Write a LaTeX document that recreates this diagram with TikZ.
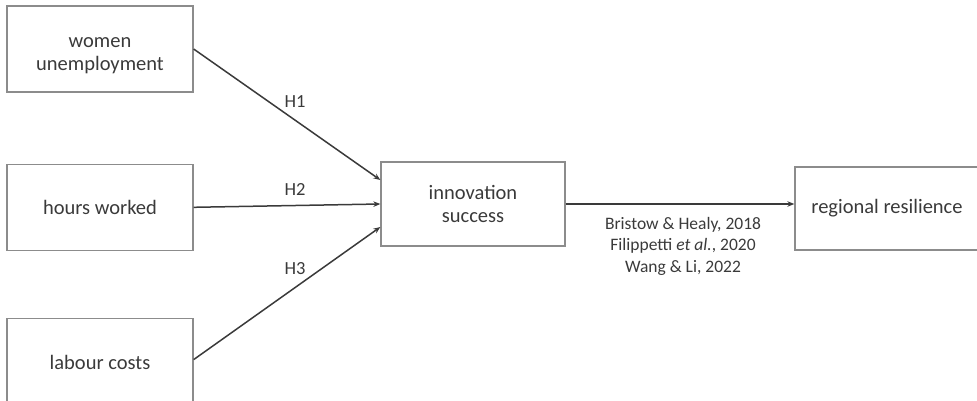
\documentclass[tikz,border=0pt]{standalone}
\usepackage{fontspec}
\setmainfont{Carlito}
\usetikzlibrary{arrows.meta,positioning}
\definecolor{boxgray}{RGB}{140,140,140}
\definecolor{inkgray}{RGB}{58,58,58}

\begin{document}
\begin{tikzpicture}[x=1pt, y=-1pt,
	boxtext/.style={align=center, text=inkgray, font=\fontsize{20.5}{23}\selectfont},
	box/.style={boxtext, draw=boxgray, line width=1.3pt, minimum width=186pt, minimum height=86pt, inner sep=0pt},
	link/.style={draw=inkgray, line width=1.5pt, -{Stealth[length=7pt,width=5.5pt]}},
	hyp/.style={text=inkgray, inner sep=0pt, font=\fontsize{18.5}{21}\selectfont}]
	\useasboundingbox (0,0) rectangle (977,401);
	% drivers
	\node[box, label={[boxtext, yshift=-7pt]center:women\\unemployment}] (wom) at (100,49) {};
	\node[box, below=71pt of wom] (hrs) {hours worked};
	\node[box, minimum height=88pt, below=67pt of hrs] (lab) {labour costs};
	% outcomes
	\node[box, minimum width=184pt, minimum height=84pt] (inn) at (473,204) {innovation\\success};
	\node[box, minimum width=184pt, minimum height=83pt] (reg) at (887,208.5) {regional resilience};
	% hypotheses
	\draw[link] (wom.east) -- ([yshift=24pt]inn.west);
	\draw[link] (hrs.east) -- (inn.west);
	\draw[link] ([yshift=3pt]lab.east) -- ([yshift=-23pt]inn.west);
	\node[hyp] (h1) at (295,102) {H1};
	\node[hyp] (h2) at (295,189) {H2};
	\node[hyp] (h3) at (295,269) {H3};
	% literature
	\draw[link] (inn.east) -- (inn.east -| reg.west);
	\node[hyp, align=center, font=\fontsize{17.5}{21.5}\selectfont] (lit) at (683,246)
		{Bristow \& Healy, 2018\\Filippetti \textit{et al.}, 2020\\Wang \& Li, 2022};
\end{tikzpicture}
\end{document}
